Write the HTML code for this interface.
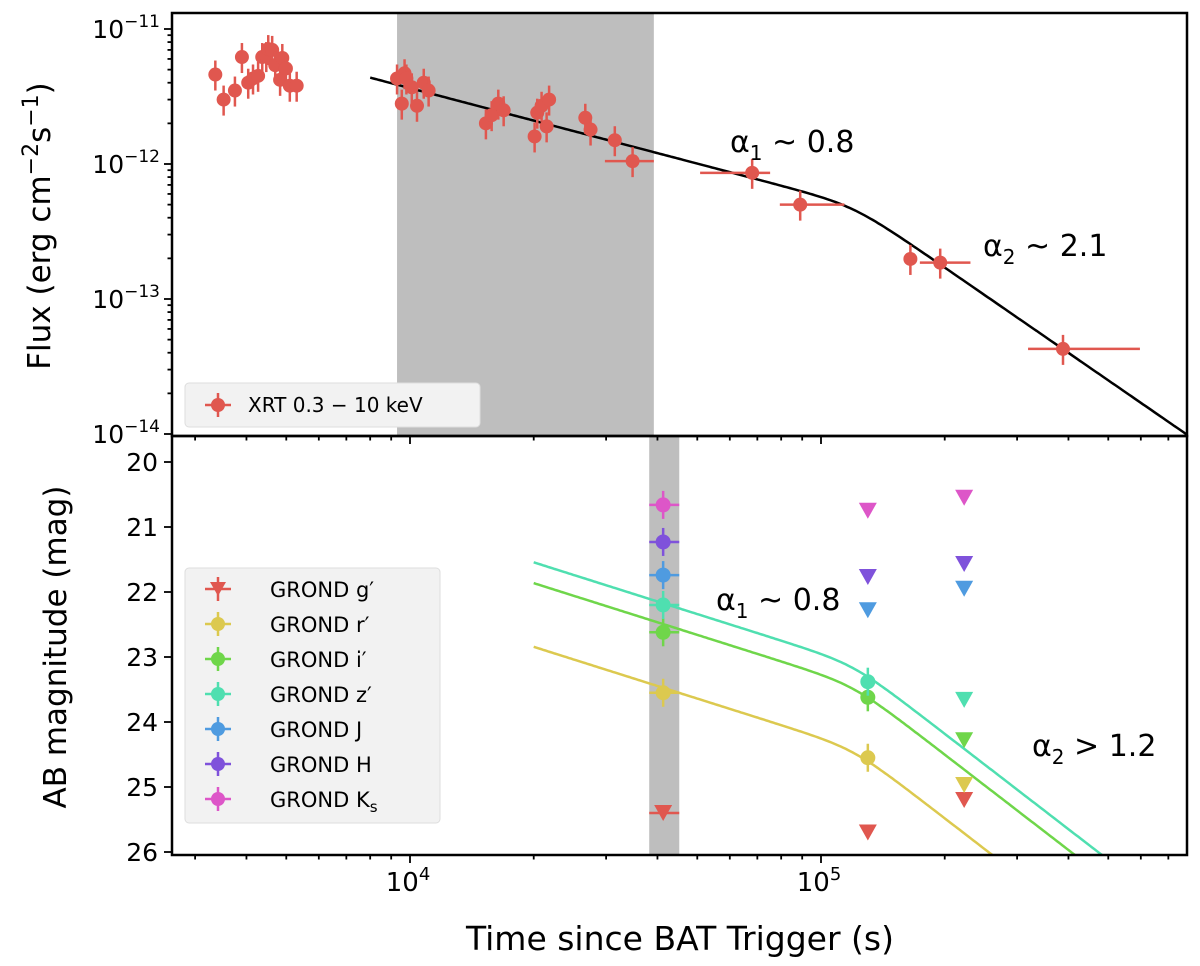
<!DOCTYPE html>
<html><head><meta charset="utf-8"><style>
html,body{margin:0;padding:0;background:#fff;overflow:hidden;width:1200px;height:966px}
svg{display:block}
text{font-family:"DejaVu Sans","Liberation Sans",sans-serif;fill:#000}
</style></head><body>
<svg id="c" width="1200" height="966" viewBox="0 0 1200 966" xmlns="http://www.w3.org/2000/svg"></svg>
<script>
// ---- data ----
const xrtTime=[3360,3520,3750,3900,4040,4150,4270,4370,4470,4520,4620,4700,4830,4890,4990,5100,5300,
 9300,9700,9550,10100,10400,9800,10800,11100,15300,15800,16400,16900,20100,20400,20900,21800,21500,26700,27500,31500,34800,68000,89000,165000,195000,388000];
const xrtFlux=[4.6,3.0,3.5,6.2,4.0,4.3,4.5,6.2,6.3,7.1,7.0,5.4,4.2,6.1,5.1,3.8,3.8,
 4.3,4.7,2.8,3.7,2.7,4.3,4.0,3.5,2.0,2.3,2.8,2.5,1.6,2.4,2.7,3.0,1.9,2.2,1.8,1.5,1.05,0.86,0.50,0.198,0.186,0.0427]; // x1e-12
const xrtXlo=[null,null,null,null,null,null,null,null,null,null,null,null,null,null,null,null,null,null,null,null,null,null,null,null,null,null,null,null,null,null,null,null,null,null,null,null,null,29800,50800,79400,null,174000,319000];
const xrtXhi=[null,null,null,null,null,null,null,null,null,null,null,null,null,null,null,null,null,null,null,null,null,null,null,null,null,null,null,null,null,null,null,null,null,null,null,null,null,39200,75200,114000,null,231000,597000];
const modelA=5.0e-13, modelTb=1.2e5, modelA1=0.8, modelA2=2.1, modelStart=8000;
const bands=["g'","r'","i'","z'","J","H","K_s"];
const bandColors=['#e0574f','#dcc94f','#6fd64a','#4fdfb0','#4f9be0','#7f52db','#dd56c8'];
const obsTimes=[41300,130000,223000];
const mags=[
 [25.4,25.7,25.2],[23.55,24.55,24.97],[22.62,23.62,24.28],[22.2,23.38,23.66],[21.74,22.28,21.95],[21.23,21.77,21.57],[20.66,20.75,20.55]];
const isLimit=[[1,1,1],[0,0,1],[0,0,1],[0,0,1],[0,1,1],[0,1,1],[0,1,1]];
const magModelBand=[1,2,3], magModelMb=[24.4,23.42,23.1], magA1=0.8, magA2=1.95, magTb=1.2e5;
const xTicks=[1e4,1e5], fluxTicks=[-11,-12,-13,-14], magTicks=[20,21,22,23,24,25,26];

// ---- axes ----
const L=172,R=1187,T1=13,B1=436,B2=855;
const lx=t=>410+411*(Math.log10(t)-4);
const yf=f=>164-135*(Math.log10(f)+12);
const ym=m=>462+65*(m-20);
const svg=document.getElementById('c');const NS='http://www.w3.org/2000/svg';
function el(tag,attrs,parent){const e=document.createElementNS(NS,tag);for(const k in attrs)e.setAttribute(k,attrs[k]);(parent||svg).appendChild(e);return e;}
const clip1=el('clipPath',{id:'c1'});el('rect',{x:L,y:T1,width:R-L,height:B1-T1},clip1);
const clip2=el('clipPath',{id:'c2'});el('rect',{x:L,y:B1,width:R-L,height:B2-B1},clip2);
const g1=el('g',{'clip-path':'url(#c1)'});
const g2=el('g',{'clip-path':'url(#c2)'});
let s=el('rect',{x:lx(9300),y:T1,width:lx(39200)-lx(9300),height:B1-T1,fill:'#bebebe'},g1);

s=el('rect',{x:lx(38200),y:B1,width:lx(45200)-lx(38200),height:B2-B1,fill:'#bebebe'},g2);

let pts=[];for(let i=0;i<=300;i++){const t=modelStart*Math.pow(1e6/modelStart,i/300);const q=t/modelTb,sm=8;
 const f=modelA*Math.pow(Math.pow(q,modelA1*sm)+Math.pow(q,modelA2*sm),-1/sm);pts.push(lx(t).toFixed(1)+','+yf(f).toFixed(1));}
s=el('polyline',{points:pts.join(' '),fill:'none',stroke:'#000','stroke-width':2.5},g1);

const red='#e0574f';
xrtTime.forEach((t,i)=>{const x=lx(t),y=yf(xrtFlux[i]*1e-12);
 const p=el('g',{},g1);
 el('line',{x1:x,x2:x,y1:y-14,y2:y+16,stroke:red,'stroke-width':2.5},p);
 if(xrtXlo[i])el('line',{x1:lx(xrtXlo[i]),x2:lx(xrtXhi[i]),y1:y,y2:y,stroke:red,'stroke-width':2.5},p);
 el('circle',{cx:x,cy:y,r:7,fill:red},p);});
magModelBand.forEach((b,k)=>{let p=[];for(let i=0;i<=300;i++){const t=2e4*Math.pow(50,i/300);const q=t/magTb,sm=10;
 const m=magModelMb[k]+2.5/sm*Math.log10(Math.pow(q,magA1*sm)+Math.pow(q,magA2*sm));p.push(lx(t).toFixed(1)+','+ym(m).toFixed(1));}
 const e=el('polyline',{points:p.join(' '),fill:'none',stroke:bandColors[b],'stroke-width':2.5},g2);
 });
mags.forEach((arr,b)=>arr.forEach((m,j)=>{const x=lx(obsTimes[j]),y=ym(m),c=bandColors[b];
 const p=el('g',{},g2);
 if(isLimit[b][j]){ if(j==0){el('line',{x1:lx(38200),x2:lx(45200),y1:y,y2:y,stroke:c,'stroke-width':2.5},p);}
   el('polygon',{points:`${x-9},${y-8} ${x+9},${y-8} ${x},${y+8}`,fill:c},p);}
 else{el('line',{x1:x,x2:x,y1:y-14,y2:y+14,stroke:c,'stroke-width':2.5},p);
   if(j==0)el('line',{x1:lx(38200),x2:lx(45200),y1:y,y2:y,stroke:c,'stroke-width':2.5},p);
   el('circle',{cx:x,cy:y,r:7.5,fill:c},p);}}));
el('rect',{x:L,y:T1,width:R-L,height:B1-T1,fill:'none',stroke:'#000','stroke-width':2.5});
el('rect',{x:L,y:B1,width:R-L,height:B2-B1,fill:'none',stroke:'#000','stroke-width':2.5});
function tick(x1,y1,x2,y2){el('line',{x1,y1,x2,y2,stroke:'#000','stroke-width':1.8});}
for(let d=1e3;d<1e6;d*=10)for(let k=1;k<10;k++){const t=d*k,x=lx(t);if(x<L||x>R)continue;const len=k==1?8:4.5;
 tick(x,B2,x,B2+len);tick(x,B1,x,B1+len);}
xTicks.forEach(t=>{const e=el('text',{x:lx(t)-2,y:B2+36,'font-size':26,'text-anchor':'middle'});e.innerHTML='10<tspan dy="-11" font-size="18">'+Math.log10(t)+'</tspan>';});
fluxTicks.forEach(p=>{const y=yf(Math.pow(10,p));tick(L,y,L-8,y);
 const e=el('text',{x:L-12,y:y+9,'font-size':25,'text-anchor':'end'});e.innerHTML='10<tspan dy="-11" font-size="17">−'+(-p)+'</tspan>';
 
 for(let k=2;k<10;k++){const yy=yf(k*Math.pow(10,p));if(yy>T1&&yy<B1)tick(L,yy,L-4.5,yy);}});
magTicks.forEach(m=>{const y=ym(m);tick(L,y,L-8,y);const e=el('text',{x:L-14,y:y+9,'font-size':25,'text-anchor':'end'});e.textContent=m;
 });
function txt(html,attrs,name){const e=el('text',attrs);e.innerHTML=html;return e;}
txt('Time since BAT Trigger (s)',{x:680,y:950,'font-size':33,'text-anchor':'middle'},'x-axis-title');
txt('Flux (erg cm<tspan dy="-12" font-size="22">−2</tspan><tspan dy="12">s</tspan><tspan dy="-12" font-size="22">−1</tspan><tspan dy="12">)</tspan>',{x:0,y:0,'font-size':31,'text-anchor':'middle',transform:'translate(50,226) rotate(-90)'},'y-axis-title-flux');
txt('AB magnitude (mag)',{x:0,y:0,'font-size':31,'text-anchor':'middle',transform:'translate(66,647) rotate(-90)'},'y-axis-title-mag');
txt('α<tspan dy="8" font-size="20">1</tspan><tspan dy="-8"> ~ 0.8</tspan>',{x:730,y:152,'font-size':30},'alpha1-xrt-label');
txt('α<tspan dy="8" font-size="20">2</tspan><tspan dy="-8"> ~ 2.1</tspan>',{x:983,y:256,'font-size':30},'alpha2-xrt-label');
txt('α<tspan dy="8" font-size="20">1</tspan><tspan dy="-8"> ~ 0.8</tspan>',{x:716,y:610,'font-size':30},'alpha1-grond-label');
txt('α<tspan dy="8" font-size="20">2</tspan><tspan dy="-8"> &gt; 1.2</tspan>',{x:1032,y:756,'font-size':30},'alpha2-grond-label');
let lg=el('g',{});
el('rect',{x:185,y:383,width:295,height:44,rx:4,fill:'#f2f2f2',stroke:'#ddd'},lg);
el('line',{x1:218,x2:218,y1:393,y2:417,stroke:red,'stroke-width':2.5},lg);el('line',{x1:205,x2:231,y1:405,y2:405,stroke:red,'stroke-width':2.5},lg);
el('circle',{cx:218,cy:405,r:7,fill:red},lg);
const lt=el('text',{x:248,y:412,'font-size':20},lg);lt.textContent='XRT 0.3 − 10 keV';
lg=el('g',{});
el('rect',{x:185,y:568,width:255,height:255,rx:4,fill:'#f2f2f2',stroke:'#ddd'},lg);
bands.forEach((b,i)=>{const y=589+35*i,c=bandColors[i];
 const it=el('g',{},lg);
 el('line',{x1:218,x2:218,y1:y-12,y2:y+12,stroke:c,'stroke-width':2.5},it);el('line',{x1:205,x2:231,y1:y,y2:y,stroke:c,'stroke-width':2.5},it);
 if(i==0)el('polygon',{points:`${218-8},${y-7} ${218+8},${y-7} 218,${y+7}`,fill:c},it);else el('circle',{cx:218,cy:y,r:7,fill:c},it);
 const t=el('text',{x:270,y:y+8,'font-size':21},it);
 t.innerHTML=b=='K_s'?'GROND K<tspan dy="5" font-size="15">s</tspan>':'GROND '+b.replace("'",'′');});
</script>
</body></html>
